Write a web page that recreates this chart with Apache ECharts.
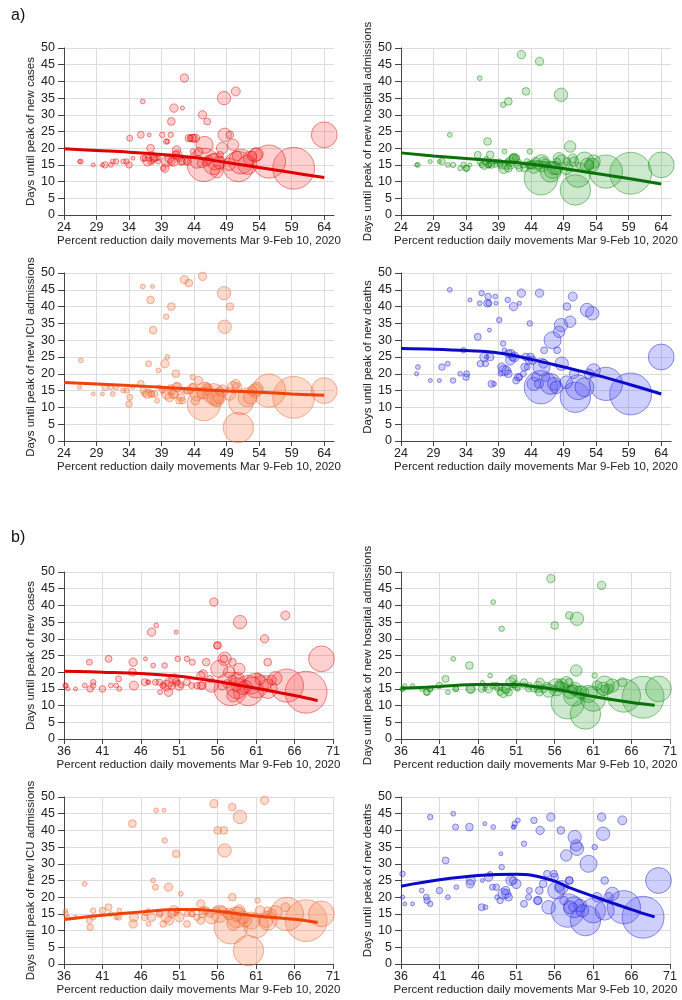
<!DOCTYPE html>
<html><head><meta charset="utf-8">
<script src="https://cdn.jsdelivr.net/npm/echarts@6/dist/echarts.min.js"></script>
<style>html,body{margin:0;padding:0;background:#fff}#c{width:682px;height:1000px}</style>
</head><body><div id="c"></div>
<script>
// ---- data: one entry per region ----
const moveA = [59.3,55.5,64,45.5,50.8,51.2,47,52.2,45.6,53.6,48.7,48.6,47.3,52.6,53.4,50,48.3,42.5,50.4,45.3,43.2,36.1,37.3,40.5,39.7,49.5,37.7,26.6,31.5,39.9,37,39.5,38.5,40.9,41.2,43.8,34,42.2,42.2,44.2,34.1,35.8,37.1,37.6,40.4,39.1,43.4,43.7,43.9,46,41.3,37.4,29.9,30.3,31.2,32,33.1,33.6,36.4,36.8,37.5,37.9,38.3,39.3,39.8,40.2,40.5,40.8,41.4,41.7,42,42.8,43,44.4,44.7,45.9,46.2,47.5,47.9,49.4,50.6,52.9,48,34.6,28.5,26.4,36.2,38.6,45.2];
const moveB = [67.5,65,69.5,57.7,60,61,58.5,62.5,56.2,63.5,56.9,58.9,60.4,62.3,58.6,58.8,57.5,55.5,64.8,62.1,57.9,48,44.9,56,49.1,56.8,50.6,38.7,42.8,47.6,47.9,49.6,51.2,47.4,57.9,61.2,39.4,48.9,50.6,45,39.3,41.8,46.6,49,50.8,52,52.7,54.5,62.5,55.9,54.1,53.3,37.5,41,43.2,39.8,42.1,36.2,39.8,45.1,43.1,46.5,47,48.5,49.3,49.7,50,51,50.3,52,53.8,52.6,54,55.2,53.8,56.6,57.2,58,59.6,59.3,61.5,63,55,46.9,36.5,36.2,48.4,50.7,58.4];
const population = [196,120,70,121,100,64,44,36,28,16,16,16,28,16,16,11,11,5,6,5,4,1,4,4,1.5,4,4,1,1,1,2,5,1,5,4,1.5,2.5,2.5,0.6,5,2,3,0.5,0.5,1.5,1.5,2,4,4,3,5,2.5,0.5,2.5,1,1.5,1,1.5,1.5,6,2,3,1,1,9,6,4,7,8,3,4,2,4,16,5,6,5,14,14,14,7,7,3,0.5,0.5,0.6,2.5,0.6,6];
const peakCases = [14,16,24,15,14.5,16,15.2,15,21,18.2,24,35,16,17,18,21,20,41,37,30,23,34,20,28,22,24,17,16,16,22,17,14,16,32,18,19,15,16,32,23,23,24,24,16,24,24,23,23,23,28,19.5,16,15,15,15,16,16,16,17,16,18,17,17,14,16,17,16,16,18,17,16,16,16,16,19,16,16.5,13,15.7,15.2,17.7,17.7,18,17,15,16,17,17,15.5];
const peakHosp = [12.5,13,15,11,7.5,12,13,16,15.5,16,16,36,13.5,15,15,20.5,17,48,17,46,37,41,22,34,33,16,18,15,24,19,16,15,15,15,17,19,14,14,16,15,14,18,17,15,16,16,16,15,15,15,17,15,16,16,15,15,14,15,15,15,15,15,16,15,14,15,14,16,17,17,15,15,14,14.5,16,16,15.5,14,14,14,16,15,16,15,16,15,16,16,15];
const peakICU = [13,15,15,11,4,11.5,14,13,15,15.5,34,44,13,13,15,16,15,48,17,49,47,46,42,40,37,40,33,24,14,25,23,23,21,14,20,19,11,12,15,12,13,17,15,46,16,15,15,16,16,16,16,14,14,16,16,16,15,15,14,14,14,14,12,15,14,13,15,14,16,12,13,15,15,14,18,16,15,12,13,14,16,15,15,16,14,16,15,16,14];
const peakDeaths = [14,17,25,16,13,16,17,16,22,21,23,34.5,30,39,38,35.5,32.5,44,43,44,25,41,41,26,29,40,25,22,45,27,23,22,43,26,25,35,19,19,41,24,20,31,25,33,42,36,22,24,25,27,40,43,18,22,23,18,20,27,44,25,41,17,17,20,21,21,20,24,25,18,19,20,22,17,19,23,19,17,16,17.5,20,20,27,42,18,20,23,41,17];
// tick labels
const ticksA = [24,29,34,39,44,49,54,59,64];
const ticksB = [36,41,46,51,56,61,66,71];
const ticksY = [0,5,10,15,20,25,30,35,40,45,50];
// fitted trend lines
const trendXA = [24,29,34,39,44,49,54,59,64];
const trendCasesA = [19.8,19.3,18.8,18.1,17.2,15.7,14.2,12.7,11.2];
const trendHospA = [18.6,17.7,16.9,16.1,15.2,13.9,12.4,10.9,9.3];
const trendICUA = [17.4,17.0,16.5,16.0,15.4,14.9,14.5,14.0,13.6];
const trendDeathsA = [27.5,27.3,26.9,26.2,24.3,22.0,19.6,16.9,14.0];
const trendXB = [36,41,46,51,53,56,58,61,66,69];
const trendCasesB = [20.3,20.0,19.6,18.8,18.2,17.2,16.4,15.2,13.0,11.5];
const trendHospB = [15.2,15.7,16.3,16.3,15.8,14.9,14.1,12.7,10.9,10.1];
const trendICUB = [13.3,14.6,15.6,16.3,16.3,15.8,15.2,14.4,13.4,12.4];
const trendDeathsB = [23.3,25.2,26.5,26.9,26.6,24.8,22.8,20.3,16.3,14.1];

const xName = 'Percent reduction daily movements Mar 9-Feb 10, 2020';
const outcomes = [
  {name:'Days until peak of new cases', y:peakCases, tA:trendCasesA, tB:trendCasesB,
   line:'#e10000', fill:'rgba(255,80,80,0.27)', border:'rgba(220,0,0,0.45)'},
  {name:'Days until peak of new hospital admissions', y:peakHosp, tA:trendHospA, tB:trendHospB,
   line:'#0b720b', fill:'rgba(70,175,70,0.27)', border:'rgba(0,130,0,0.45)'},
  {name:'Days until peak of new ICU admissions', y:peakICU, tA:trendICUA, tB:trendICUB,
   line:'#f2420a', fill:'rgba(250,140,95,0.32)', border:'rgba(235,90,40,0.45)'},
  {name:'Days until peak of new deaths', y:peakDeaths, tA:trendDeathsA, tB:trendDeathsB,
   line:'#0a0ac8', fill:'rgba(95,95,250,0.3)', border:'rgba(40,40,210,0.5)'}
];
const groups = [
  {x:moveA, ticks:ticksA, tx:trendXA, key:'tA', min:24, max:65.5, tops:[48,273], heights:[167,168], width:270},
  {x:moveB, ticks:ticksB, tx:trendXB, key:'tB', min:36, max:71, tops:[572,797], heights:[167,167], width:269}
];
const lefts = [64,401];
const font = "'Liberation Sans', Arial, sans-serif";

const grid=[], xAxis=[], yAxis=[], series=[];
groups.forEach((g,gi)=>{
  outcomes.forEach((o,oi)=>{
    const idx = grid.length;
    const row = Math.floor(oi/2), col = oi%2;
    grid.push({left:lefts[col], top:g.tops[row], width:g.width, height:g.heights[row], containLabel:false});
    xAxis.push({type:'value', gridIndex:idx, min:g.min, max:g.max,
      name:xName, nameLocation:'middle', nameGap:18,
      nameTextStyle:{fontFamily:font, fontSize:11.5, color:'#222'},
      axisLine:{show:true, onZero:false, lineStyle:{color:'#444', width:1}},
      axisTick:{show:true, length:5, lineStyle:{color:'#444'}, customValues:g.ticks},
      axisLabel:{fontFamily:font, fontSize:12.5, color:'#222', margin:6, customValues:g.ticks},
      splitLine:{show:true, lineStyle:{color:'#dcdcdc', width:1}}});
    yAxis.push({type:'value', gridIndex:idx, min:0, max:50, interval:5,
      name:o.name, nameLocation:'middle', nameGap:27,
      nameTextStyle:{fontFamily:font, fontSize:11.5, color:'#222'},
      axisLine:{show:true, onZero:false, lineStyle:{color:'#444', width:1}},
      axisTick:{show:true, length:6, lineStyle:{color:'#444'}},
      axisLabel:{fontFamily:font, fontSize:12.5, color:'#222', margin:9},
      splitLine:{show:true, lineStyle:{color:'#dcdcdc', width:1}}});
    const pts = g.x.map((xv,i)=>[xv, o.y[i], population[i]]).filter(p=>p[1]!=null);
    pts.sort((a,b)=>b[2]-a[2]);
    series.push({type:'scatter', xAxisIndex:idx, yAxisIndex:idx, data:pts,
      symbolSize:(v)=>2 + 2.85*Math.sqrt(v[2]),
      itemStyle:{color:o.fill, borderColor:o.border, borderWidth:1, opacity:1},
      emphasis:{disabled:true}, silent:true, z:2});
    series.push({type:'line', xAxisIndex:idx, yAxisIndex:idx,
      data:g.tx.map((xv,i)=>[xv, o[g.key][i]]), smooth:0.4, showSymbol:false, symbol:'none',
      lineStyle:{color:o.line, width:3}, silent:true, z:5});
  });
});

const chart = echarts.init(document.getElementById('c'), null, {renderer:'canvas'});
chart.setOption({
  animation:false,
  backgroundColor:'#fff',
  title:[
    {text:'a)', left:6, top:3, textStyle:{fontFamily:font, fontSize:16, fontWeight:'normal', color:'#111'}},
    {text:'b)', left:6, top:525, textStyle:{fontFamily:font, fontSize:16, fontWeight:'normal', color:'#111'}}
  ],
  grid, xAxis, yAxis, series
});
</script></body></html>
